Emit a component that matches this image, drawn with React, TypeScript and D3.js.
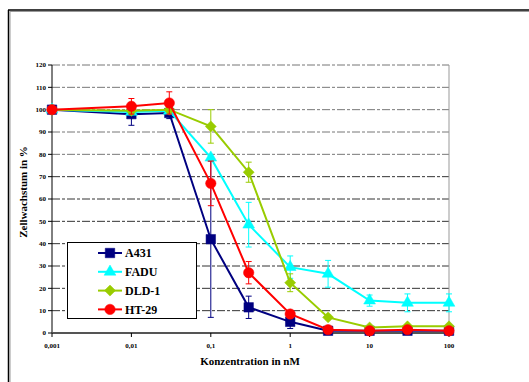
import * as d3 from "d3";

// concentrations in nM
const conc = [0.001, 0.01, 0.03, 0.1, 0.3, 1, 3, 10, 30, 100];
const xTicks = [0.001, 0.01, 0.1, 1, 10, 100];
const xTickLabels = ["0,001", "0,01", "0,1", "1", "10", "100"];
const yTicks = [0, 10, 20, 30, 40, 50, 60, 70, 80, 90, 100, 110, 120];

const a431 = [100, 98, 98.5, 42, 11.5, 5, 1, 1, 1, 1];
const a431Err = [0, 5, 2.5, 35, 5, 3, 0.5, 0.5, 0.5, 0.5];
const fadu = [100, 99, 99.5, 78.5, 48.5, 29.5, 26.5, 14.5, 13.5, 13.5];
const faduErr = [0, 1, 1, 0, 10, 5, 6, 2.5, 4, 4];
const dld1 = [100, 99.5, 100, 92.5, 72, 22.5, 7, 2.5, 3, 3];
const dld1Err = [0, 1, 1, 7.5, 4.5, 4, 1, 0.5, 0.5, 0.5];
const ht29 = [100, 101.5, 103, 67, 27, 8.5, 1.5, 1, 1.5, 1];
const ht29Err = [0, 3.5, 5, 10, 5, 1, 0.5, 0.5, 0.5, 0.5];

const seriesNames = ["A431", "FADU", "DLD-1", "HT-29"];
const seriesValues = [a431, fadu, dld1, ht29];
const seriesErrors = [a431Err, faduErr, dld1Err, ht29Err];
const seriesColors = ["#000080", "#00FFFF", "#99CC00", "#FF0000"];
const seriesSymbols = ["square", "triangle", "diamond", "circle"];

const W = 529;
const H = 382;
const font = "'Liberation Serif'";

const x = d3.scaleLog().domain([0.001, 100]).range([52, 449]);
const y = d3.scaleLinear().domain([0, 120]).range([333, 65]);

function markerPath(kind: string) {
	if (kind === "square") return d3.symbol(d3.symbolSquare, 90)()!;
	if (kind === "triangle") return d3.symbol(d3.symbolTriangle, 60)()!;
	if (kind === "diamond") return d3.symbol(d3.symbolSquare, 60)()!;
	return d3.symbol(d3.symbolCircle, 85)()!;
}

function Marker({kind, color, cx, cy}: {kind: string; color: string; cx: number; cy: number}) {
	const rot = kind === "diamond" ? " rotate(45)" : "";
	return (
		<path
			d={markerPath(kind)}
			transform={`translate(${cx},${cy})${rot}`}
			fill={color}
			stroke={color}
			strokeWidth={0.5}
		/>
	);
}

export default function App() {
	const line = d3
		.line<number>()
		.x((_, i) => x(conc[i]))
		.y((d) => y(d));

	return (
		<svg
			width={W}
			height={H}
			style={{position: "absolute", left: 0, top: 0, background: "#fff"}}
		>
			<g fontFamily={font}>
			{/* outer frame */}
			<line x1={8.5} y1={10} x2={8.5} y2={H} stroke="#000" strokeWidth={1.5} />
			<line x1={10} y1={11.5} x2={10} y2={H} stroke="#999" strokeWidth={1} />
			<line x1={8} y1={10} x2={W} y2={10} stroke="#000" strokeWidth={1.5} />
			<line x1={10} y1={11.5} x2={W} y2={11.5} stroke="#999" strokeWidth={1} />

			{/* gridlines */}
			{yTicks.slice(1).map((t) => (
				<line
					key={t}
					x1={x(0.001)}
					x2={x(100)}
					y1={y(t)}
					y2={y(t)}
					stroke={t >= 80 ? "#777" : "#333"}
					strokeWidth={1}
					strokeDasharray="8 2 3 2"
				/>
			))}
			<line x1={x(100)} x2={x(100)} y1={y(120)} y2={y(0)} stroke="#999" strokeWidth={1} />

			{/* y axis */}
			<line x1={x(0.001)} x2={x(0.001)} y1={y(120)} y2={y(0)} stroke="#000" strokeWidth={1} />
			{yTicks.map((t) => (
				<g key={t}>
					<line x1={x(0.001) - 4} x2={x(0.001)} y1={y(t)} y2={y(t)} stroke="#000" />
					<text
						x={x(0.001) - 6}
						y={y(t)}
						dy="0.33em"
						textAnchor="end"
						fontSize={7}
						fontWeight="bold"
					>
						{t}
					</text>
				</g>
			))}

			{/* x axis */}
			<line x1={x(0.001)} x2={x(100)} y1={y(0)} y2={y(0)} stroke="#555" strokeWidth={2} />
			{xTicks.map((t, i) => (
				<g key={t}>
					<line x1={x(t)} x2={x(t)} y1={y(0)} y2={y(0) + 4} stroke="#000" />
					<text x={x(t)} y={y(0) + 15} textAnchor="middle" fontSize={7} fontWeight="bold">
						{xTickLabels[i]}
					</text>
				</g>
			))}

			{/* axis titles */}
			<text x={250} y={365} textAnchor="middle" fontSize={11} fontWeight="bold">
				Konzentration in nM
			</text>
			<text
				transform="translate(27,192) rotate(-90)"
				textAnchor="middle"
				fontSize={11}
				fontWeight="bold"
			>
				Zellwachstum in %
			</text>

			{/* series */}
			{seriesValues.map((vals, s) => (
				<g key={seriesNames[s]}>
					{vals.map((v, i) =>
						seriesErrors[s][i] > 0 ? (
							<g key={i} stroke={seriesColors[s]} strokeWidth={1}>
								<line x1={x(conc[i])} x2={x(conc[i])} y1={y(v - seriesErrors[s][i])} y2={y(v + seriesErrors[s][i])} />
								<line x1={x(conc[i]) - 3} x2={x(conc[i]) + 3} y1={y(v - seriesErrors[s][i])} y2={y(v - seriesErrors[s][i])} />
								<line x1={x(conc[i]) - 3} x2={x(conc[i]) + 3} y1={y(v + seriesErrors[s][i])} y2={y(v + seriesErrors[s][i])} />
							</g>
						) : null
					)}
					<path d={line(vals)!} fill="none" stroke={seriesColors[s]} strokeWidth={2} />
					{vals.map((v, i) => (
						<Marker key={i} kind={seriesSymbols[s]} color={seriesColors[s]} cx={x(conc[i])} cy={y(v)} />
					))}
				</g>
			))}

			{/* legend */}
			<g>
				<rect x={67.5} y={242.5} width={129} height={76} fill="#fff" stroke="#000" strokeWidth={1} />
				{seriesNames.map((name, s) => (
					<g key={name} transform={`translate(0,${253 + s * 18.8})`}>
						<line x1={98} x2={122} y1={0} y2={0} stroke={seriesColors[s]} strokeWidth={2} />
						<Marker kind={seriesSymbols[s]} color={seriesColors[s]} cx={110} cy={0} />
						<text x={125} y={0} dy="0.35em" fontSize={12} fontWeight="bold">
							{name}
						</text>
					</g>
				))}
			</g>
			</g>
		</svg>
	);
}
